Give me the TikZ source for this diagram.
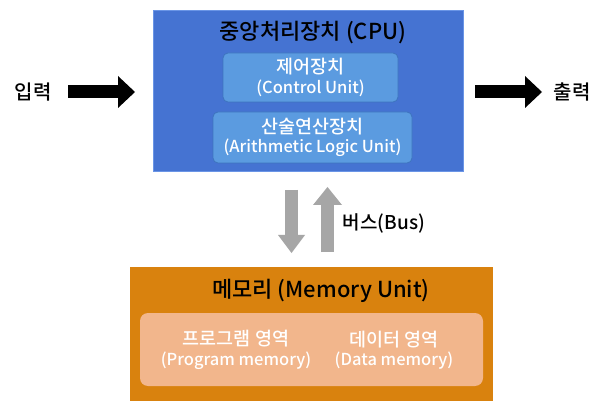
\documentclass[tikz,border=0pt]{standalone}
\usepackage{fontspec}
\setmainfont{Noto Sans CJK KR}[UprightFont=* Medium, BoldFont=* Bold]
\usetikzlibrary{arrows.meta}

\definecolor{cpublue}{HTML}{4573D2}
\definecolor{cpuedge}{HTML}{6A95E6}
\definecolor{unitblue}{HTML}{5B9BE0}
\definecolor{unitedge}{HTML}{3E74BE}
\definecolor{memorange}{HTML}{D9820E}
\definecolor{mempeach}{HTML}{F2B68C}
\definecolor{busgray}{HTML}{A6A6A6}

% first line of a unit label is set a bit larger
\newcommand{\unitname}[1]{{\fontsize{18.5}{19.5}\selectfont #1}}

\tikzset{
  box/.style={inner sep=0pt},
  unitbox/.style={box, draw=unitedge, fill=unitblue, rounded corners=5pt, line width=0.8pt},
  fatarrow/.style={line width=13pt, -{Triangle[length=17pt,width=32pt,line width=0pt]}},
  busarrow/.style={busgray, line width=13pt, -{Triangle[length=18pt,width=#1,line width=0pt]}},
  title/.style={font=\fontsize{22}{26}\selectfont},
  label/.style={font=\fontsize{20}{24}\selectfont},
  unittext/.style={white, align=center, font=\fontsize{16.5}{19.5}\selectfont},
}

\begin{document}
\begin{tikzpicture}[x=1pt, y=-1pt]
      \useasboundingbox[fill=white] (0,0) rectangle (603,401);

      % CPU
      \node[box, draw=cpuedge, fill=cpublue, minimum width=310pt, minimum height=161pt] (cpu) at (308,90.5) {};
      \node[title] (cputitle) at (313,33) {중앙처리장치 (CPU)};
      \node[unitbox, minimum width=175pt, minimum height=49pt] (ctrl) at (310.5,77.5) {};
      \node[unittext] (ctrltext) at (ctrl) {\unitname{제어장치}\\(Control Unit)};
      \node[unitbox, minimum width=199pt, minimum height=51pt] (alu) at (312.5,137.5) {};
      \node[unittext] (alutext) at (alu) {\unitname{산술연산장치}\\(Arithmetic Logic Unit)};

      % 입력 / 출력
      \node[label] (inlabel) at (33,92) {입력};
      \coordinate (in1) at (68,92);
      \coordinate (in2) at (135,92);
      \draw[fatarrow] (in1) -- (in2);
      \coordinate (out1) at (475,92);
      \coordinate (out2) at (542,92);
      \draw[fatarrow] (out1) -- (out2);
      \node[label] (outlabel) at (572,92) {출력};

      % 버스
      \coordinate (down1) at (291.5,190);
      \coordinate (down2) at (291.5,253);
      \draw[busarrow=27pt] (down1) -- (down2);
      \coordinate (up1) at (327.5,252);
      \coordinate (up2) at (327.5,187);
      \draw[busarrow=29pt] (up1) -- (up2);
      \node[label, font=\fontsize{19}{22}\selectfont] (buslabel) at (384,223) {버스(Bus)};

      % 메모리
      \node[box, fill=memorange, minimum width=363pt, minimum height=134pt] (mem) at (311.5,334) {};
      \node[title] (memtitle) at (321,291) {메모리 (Memory Unit)};
      \node[box, fill=mempeach, rounded corners=8pt, minimum width=343pt, minimum height=73pt] (memarea) at (311.5,349.5) {};
      \node[unittext] (prog) at (236,350) {\unitname{프로그램 영역}\\(Program memory)};
      \node[unittext] (data) at (394,350) {\unitname{데이터 영역}\\(Data memory)};
    \end{tikzpicture}
\end{document}
